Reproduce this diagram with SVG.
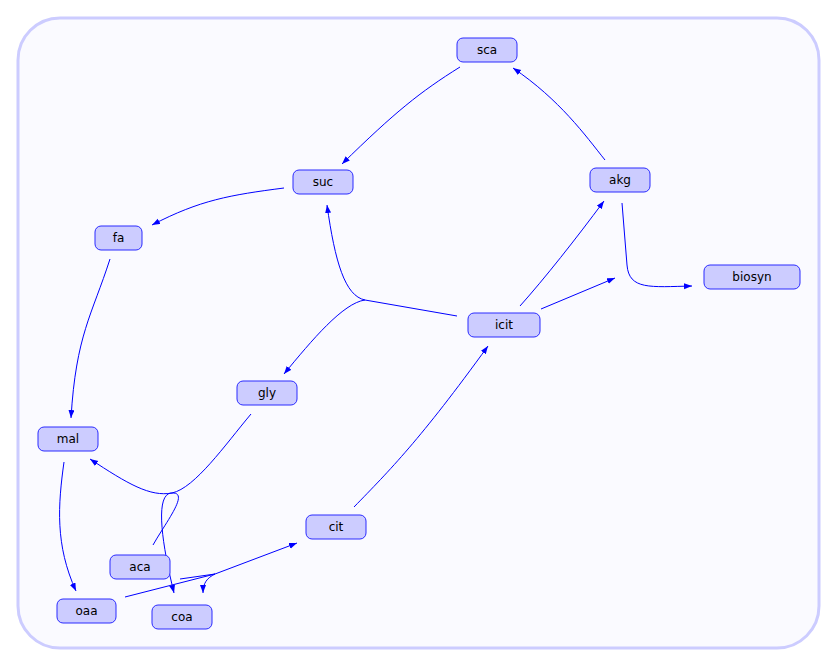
<svg xmlns="http://www.w3.org/2000/svg" width="837" height="667" viewBox="0 0 837 667">
  <defs>
    <marker id="arr" markerUnits="userSpaceOnUse" markerWidth="9" markerHeight="7" refX="8" refY="3" orient="auto">
      <path d="M0,0 L8,3 L0,6 z" fill="#0000ff"/>
    </marker>
    <style>
      .node rect { fill: #ccccff; stroke: #2a2aff; stroke-width: 1; }
      .node text { font-family: "DejaVu Sans", sans-serif; font-size: 12px; fill: #000; text-anchor: middle; dominant-baseline: central; }
      #edges path { fill: none; stroke: #0000ff; stroke-width: 1; }
      #edges path.a { marker-end: url(#arr); }
    </style>
  </defs>

  <!-- canvas -->
  <rect x="18" y="18" width="801" height="630" rx="42" ry="42" fill="#fafaff" stroke="#ccccff" stroke-width="3"/>

  <g id="edges">
    <path class="a" d="M460,67 C420,92 395,112 342,164"/>
    <path class="a" d="M605,160 C585,135 560,100 513,68"/>
    <path class="a" d="M284,188 C230,195 200,200 152,225"/>
    <path class="a" d="M110,259 C92,315 76,335 71,418"/>
    <path class="a" d="M64,462 C58,505 55,545 76,591"/>
    <!-- icit splits toward suc and gly -->
    <path d="M457,316 L365,300"/>
    <path class="a" d="M365,300 C345,296 335,262 327,205"/>
    <path class="a" d="M365,300 C343,303 312,340 284,374"/>
    <path class="a" d="M520,306 C545,278 575,240 604,201"/>
    <path class="a" d="M541,309 L615,278"/>
    <path class="a" d="M622,203 L627,265 C629,290 650,287 692,286"/>
    <path class="a" d="M354,507 C390,470 420,440 488,346"/>
    <!-- gly + aca join, then to mal and coa -->
    <path d="M251,414 C225,445 195,488 172,493"/>
    <path d="M153,545 C166,522 190,492 172,493"/>
    <path class="a" d="M172,493 C150,497 128,484 90,459"/>
    <path class="a" d="M172,493 C155,493 161,540 174,593"/>
    <!-- oaa join toward cit and coa -->
    <path d="M125,597 L215,574"/>
    <path d="M180,579 L215,574"/>
    <path class="a" d="M215,574 L297,543"/>
    <path class="a" d="M215,574 C207,578 203,583 203,593"/>
  </g>

  <g id="sca" class="node"><rect x="457" y="38" width="60" height="24" rx="6"/><text x="487" y="50">sca</text></g>
  <g id="suc" class="node"><rect x="293" y="170" width="60" height="24" rx="6"/><text x="323" y="182">suc</text></g>
  <g id="akg" class="node"><rect x="590" y="168" width="60" height="24" rx="6"/><text x="620" y="180">akg</text></g>
  <g id="fa" class="node"><rect x="95" y="226" width="47" height="24" rx="6"/><text x="118.5" y="238">fa</text></g>
  <g id="biosyn" class="node"><rect x="704" y="265" width="96" height="24" rx="6"/><text x="752" y="277">biosyn</text></g>
  <g id="icit" class="node"><rect x="468" y="313" width="72" height="24" rx="6"/><text x="504" y="325">icit</text></g>
  <g id="gly" class="node"><rect x="237" y="381" width="60" height="24" rx="6"/><text x="267" y="393">gly</text></g>
  <g id="mal" class="node"><rect x="38" y="427" width="60" height="24" rx="6"/><text x="68" y="439">mal</text></g>
  <g id="cit" class="node"><rect x="306" y="515" width="60" height="24" rx="6"/><text x="336" y="527">cit</text></g>
  <g id="aca" class="node"><rect x="110" y="555" width="60" height="24" rx="6"/><text x="140" y="567">aca</text></g>
  <g id="oaa" class="node"><rect x="57" y="599" width="59" height="24" rx="6"/><text x="86.5" y="611">oaa</text></g>
  <g id="coa" class="node"><rect x="152" y="605" width="60" height="24" rx="6"/><text x="182" y="617">coa</text></g>
</svg>
